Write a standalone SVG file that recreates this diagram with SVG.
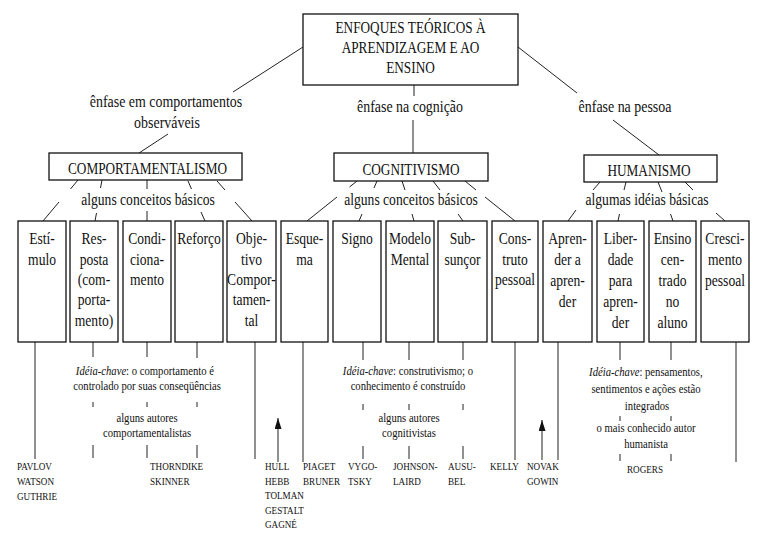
<svg xmlns="http://www.w3.org/2000/svg" width="768" height="554" viewBox="0 0 768 554">
<style>
text{font-family:"Liberation Serif","Times New Roman",serif;fill:#111;transform-box:fill-box;}
.m{text-anchor:middle;transform-origin:center;}
.s{text-anchor:start;transform-origin:left;}
.h{font-size:17px;transform:scaleX(0.78);}
.b{font-size:17px;transform:scaleX(0.8);}
.e{font-size:17px;transform:scaleX(0.82);}
.k{font-size:13px;transform:scaleX(0.82);}
.a{font-size:11px;transform:scaleX(0.83);}
rect{fill:#fff;stroke:#111;stroke-width:1.3;}
#connectors line{stroke:#222;stroke-width:1;}
</style>
<defs>
<marker id="ah" viewBox="0 0 7 11" refX="3.5" refY="0" markerWidth="7" markerHeight="11" orient="0" markerUnits="userSpaceOnUse"><path d="M3.5,0 L7,11 L0,11 Z" fill="#111"/></marker>
</defs>
<rect x="0" y="0" width="768" height="554" style="stroke:none"/>
<g id="connectors">
<line x1="303" y1="47" x2="233" y2="92"/>
<line x1="168" y1="134" x2="139" y2="153"/>
<line x1="414" y1="85" x2="414" y2="96"/>
<line x1="413" y1="120" x2="413" y2="153"/>
<line x1="518" y1="47" x2="577" y2="93"/>
<line x1="613" y1="120" x2="659" y2="155"/>
<line x1="78" y1="180" x2="70.5" y2="189"/><line x1="59" y1="202" x2="43" y2="221"/>
<line x1="102" y1="180" x2="100.5" y2="188"/><line x1="96.5" y1="213" x2="95" y2="221"/>
<line x1="147" y1="180" x2="147" y2="189"/><line x1="147" y1="211" x2="147" y2="221"/>
<line x1="188" y1="181" x2="191.5" y2="189"/><line x1="201" y1="212" x2="205" y2="221"/>
<line x1="217" y1="181" x2="225" y2="190"/><line x1="235" y1="202" x2="252" y2="221"/>
<line x1="357" y1="181" x2="349.5" y2="187"/><line x1="337" y1="197" x2="307" y2="221"/>
<line x1="377" y1="181" x2="374" y2="188"/><line x1="362" y1="214" x2="359" y2="221"/>
<line x1="402" y1="181" x2="405" y2="190"/><line x1="412" y1="214" x2="414" y2="221"/>
<line x1="433" y1="181" x2="440" y2="190"/><line x1="458" y1="214" x2="463" y2="221"/>
<line x1="465" y1="181" x2="476" y2="190"/><line x1="485" y1="197" x2="515" y2="221"/>
<line x1="600" y1="182" x2="593" y2="190"/><line x1="576" y1="210" x2="568" y2="221"/>
<line x1="626" y1="182" x2="624" y2="190"/><line x1="619.5" y1="214" x2="618" y2="221"/>
<line x1="658" y1="182" x2="662" y2="192"/><line x1="670.5" y1="214" x2="673" y2="221"/>
<line x1="685" y1="182" x2="693" y2="190"/><line x1="716" y1="213" x2="725" y2="221"/>
<line x1="35" y1="342" x2="35" y2="459"/>
<line x1="93" y1="342" x2="93" y2="357"/>
<line x1="147" y1="342" x2="147" y2="357"/>
<line x1="197" y1="342" x2="197" y2="358"/>
<line x1="93" y1="402" x2="93" y2="407"/><line x1="147" y1="402" x2="147" y2="407"/><line x1="197" y1="402" x2="197" y2="407"/>
<line x1="93" y1="445" x2="93" y2="458"/><line x1="147" y1="445" x2="147" y2="458"/><line x1="197" y1="445" x2="197" y2="458"/>
<line x1="255" y1="342" x2="255" y2="459"/>
<line x1="278" y1="462" x2="278" y2="418" marker-end="url(#ah)"/>
<line x1="303" y1="342" x2="303" y2="462"/>
<line x1="363" y1="342" x2="363" y2="360"/>
<line x1="409" y1="342" x2="409" y2="360"/>
<line x1="463" y1="342" x2="463" y2="360"/>
<line x1="363" y1="404" x2="363" y2="410"/><line x1="409" y1="404" x2="409" y2="410"/><line x1="463" y1="404" x2="463" y2="410"/>
<line x1="363" y1="446" x2="363" y2="459"/><line x1="409" y1="446" x2="409" y2="459"/><line x1="463" y1="446" x2="463" y2="459"/>
<line x1="515" y1="342" x2="515" y2="460"/>
<line x1="542" y1="460" x2="542" y2="420" marker-end="url(#ah)"/>
<line x1="558" y1="342" x2="558" y2="460"/>
<line x1="620" y1="342" x2="620" y2="360"/>
<line x1="671" y1="342" x2="671" y2="360"/>
<line x1="620" y1="416" x2="620" y2="421"/><line x1="671" y1="416" x2="671" y2="421"/>
<line x1="620" y1="454" x2="620" y2="461"/><line x1="671" y1="454" x2="671" y2="461"/>
<line x1="736" y1="342" x2="736" y2="462"/>
</g>
<g id="root">
<rect x="303" y="14" width="215" height="71"/>
<text class="m h" x="410.5" y="33">ENFOQUES TEÓRICOS À</text>
<text class="m h" x="410.5" y="53">APRENDIZAGEM E AO</text>
<text class="m h" x="410.5" y="73">ENSINO</text>
</g>
<g id="lbl-comp"><text class="m e" x="166" y="107">ênfase em comportamentos</text><text class="m e" x="167" y="128">observáveis</text></g>
<g id="lbl-cog"><text class="m e" x="410" y="112">ênfase na cognição</text></g>
<g id="lbl-pes"><text class="m e" x="625" y="112">ênfase na pessoa</text></g>
<g id="comp"><rect x="49" y="153" width="193" height="27"/><text class="m h" x="147.5" y="174">COMPORTAMENTALISMO</text></g>
<g id="cog"><rect x="334" y="153" width="154" height="28"/><text class="m h" x="411" y="175">COGNITIVISMO</text></g>
<g id="hum"><rect x="584" y="155" width="133" height="27"/><text class="m h" x="649" y="176">HUMANISMO</text></g>
<g id="lbl-cb1"><text class="m b" x="148" y="205">alguns conceitos básicos</text></g>
<g id="lbl-cb2"><text class="m b" x="411" y="205">alguns conceitos básicos</text></g>
<g id="lbl-ib"><text class="m b" x="647" y="205">algumas idéias básicas</text></g>
<g id="estimulo"><rect x="18" y="221" width="48" height="121"/><text class="m b" x="42" y="244">Estí-</text><text class="m b" x="42" y="265">mulo</text></g>
<g id="resposta"><rect x="70" y="221" width="48" height="121"/><text class="m b" x="94" y="244">Res-</text><text class="m b" x="94" y="265">posta</text><text class="m b" x="94" y="285">(com-</text><text class="m b" x="94" y="305.5">porta-</text><text class="m b" x="94" y="326">mento)</text></g>
<g id="condicionamento"><rect x="123" y="221" width="48" height="121"/><text class="m b" x="147" y="244">Condi-</text><text class="m b" x="147" y="265">ciona-</text><text class="m b" x="147" y="285">mento</text></g>
<g id="reforco"><rect x="175" y="221" width="48" height="121"/><text class="m b" x="199" y="244">Reforço</text></g>
<g id="objetivo"><rect x="227" y="221" width="49" height="121"/><text class="m b" x="251.5" y="244">Obje-</text><text class="m b" x="251.5" y="265">tivo</text><text class="m b" x="251.5" y="285">Compor-</text><text class="m b" x="251.5" y="305.5">tamen-</text><text class="m b" x="251.5" y="326">tal</text></g>
<g id="esquema"><rect x="281" y="221" width="47" height="121"/><text class="m b" x="304.5" y="244">Esque-</text><text class="m b" x="304.5" y="265">ma</text></g>
<g id="signo"><rect x="333" y="221" width="48" height="121"/><text class="m b" x="357" y="244">Signo</text></g>
<g id="modelo"><rect x="386" y="221" width="48" height="121"/><text class="m b" x="410" y="244">Modelo</text><text class="m b" x="410" y="265">Mental</text></g>
<g id="subsuncor"><rect x="438" y="221" width="49" height="121"/><text class="m b" x="462.5" y="244">Sub-</text><text class="m b" x="462.5" y="265">sunçor</text></g>
<g id="construto"><rect x="492" y="221" width="46" height="121"/><text class="m b" x="515" y="244">Cons-</text><text class="m b" x="515" y="265">truto</text><text class="m b" x="515" y="285">pessoal</text></g>
<g id="aprender"><rect x="543" y="221" width="49" height="121"/><text class="m b" x="567.5" y="244">Apren-</text><text class="m b" x="567.5" y="265">der a</text><text class="m b" x="567.5" y="286">apren-</text><text class="m b" x="567.5" y="307">der</text></g>
<g id="liberdade"><rect x="597" y="221" width="47" height="121"/><text class="m b" x="620.5" y="244">Liber-</text><text class="m b" x="620.5" y="265">dade</text><text class="m b" x="620.5" y="286">para</text><text class="m b" x="620.5" y="307">apren-</text><text class="m b" x="620.5" y="328">der</text></g>
<g id="ensino"><rect x="649" y="221" width="47" height="121"/><text class="m b" x="672.5" y="244">Ensino</text><text class="m b" x="672.5" y="265">cen-</text><text class="m b" x="672.5" y="286">trado</text><text class="m b" x="672.5" y="307">no</text><text class="m b" x="672.5" y="328">aluno</text></g>
<g id="crescimento"><rect x="701" y="221" width="48" height="121"/><text class="m b" x="725" y="244">Cresci-</text><text class="m b" x="725" y="265">mento</text><text class="m b" x="725" y="286">pessoal</text></g>
<g id="ideia-comp"><text class="m k" x="145" y="375"><tspan font-style="italic">Idéia-chave</tspan>: o comportamento é</text><text class="m k" x="147" y="390">controlado por suas conseqüências</text></g>
<g id="autores-comp"><text class="m k" x="147" y="422">alguns autores</text><text class="m k" x="147" y="437">comportamentalistas</text></g>
<g id="ideia-cog"><text class="m k" x="408" y="375"><tspan font-style="italic">Idéia-chave</tspan>: construtivismo; o</text><text class="m k" x="408" y="390">conhecimento é construído</text></g>
<g id="autores-cog"><text class="m k" x="409" y="422">alguns autores</text><text class="m k" x="409" y="437">cognitivistas</text></g>
<g id="ideia-hum"><text class="m k" x="646" y="376"><tspan font-style="italic">Idéia-chave</tspan>: pensamentos,</text><text class="m k" x="646" y="393">sentimentos e ações estão</text><text class="m k" x="647" y="410">integrados</text></g>
<g id="autor-hum"><text class="m k" x="646" y="432">o mais conhecido autor</text><text class="m k" x="646" y="448">humanista</text></g>
<g id="a-pavlov"><text class="s a" x="17" y="470">PAVLOV</text><text class="s a" x="17" y="485">WATSON</text><text class="s a" x="17" y="500">GUTHRIE</text></g>
<g id="a-thorndike"><text class="s a" x="150" y="470">THORNDIKE</text><text class="s a" x="150" y="485">SKINNER</text></g>
<g id="a-hull"><text class="s a" x="265" y="470">HULL</text><text class="s a" x="265" y="485">HEBB</text><text class="s a" x="265" y="499">TOLMAN</text><text class="s a" x="265" y="514">GESTALT</text><text class="s a" x="265" y="528">GAGNÉ</text></g>
<g id="a-piaget"><text class="s a" x="303" y="470">PIAGET</text><text class="s a" x="303" y="485">BRUNER</text></g>
<g id="a-vygotsky"><text class="s a" x="348" y="470">VYGO-</text><text class="s a" x="348" y="485">TSKY</text></g>
<g id="a-johnson"><text class="s a" x="393" y="470">JOHNSON-</text><text class="s a" x="393" y="485">LAIRD</text></g>
<g id="a-ausubel"><text class="s a" x="448" y="470">AUSU-</text><text class="s a" x="448" y="485">BEL</text></g>
<g id="a-kelly"><text class="s a" x="490" y="470">KELLY</text></g>
<g id="a-novak"><text class="s a" x="527" y="470">NOVAK</text><text class="s a" x="527" y="485">GOWIN</text></g>
<g id="a-rogers"><text class="m a" x="645" y="473">ROGERS</text></g>
</svg>
